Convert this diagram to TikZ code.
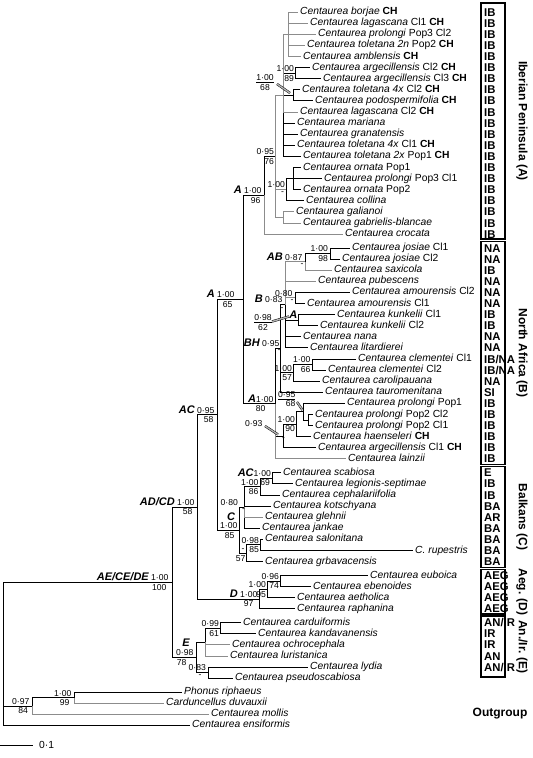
\documentclass[tikz,border=0pt]{standalone}
\usepackage{fontspec}
\setmainfont{Liberation Sans}
\newcommand\lfont{\fontsize{10.3}{11}\selectfont}
\newcommand\sfont{\fontsize{8.6}{9.4}\selectfont}
\newcommand\cfont{\fontsize{11}{12}\selectfont\bfseries\itshape}
\newcommand\kfont{\fontsize{11.3}{12}\selectfont\bfseries}
\newcommand\rfont{\fontsize{12}{13}\selectfont\bfseries}
\tikzset{
  lf/.style={anchor=west, inner xsep=2.5pt, inner ysep=0pt, text height=7.4pt, text depth=2.1pt, font=\lfont},
  br/.style={line width=0.75pt, black},
  gb/.style={line width=0.75pt, black!45},
  sp/.style={font=\sfont, inner sep=0.4pt},
  code/.style={anchor=west, inner sep=0pt, text height=8.2pt, text depth=0pt, font=\kfont},
  rbox/.style={draw, line width=1.1pt},
  reg/.style={font=\rfont, rotate=-90, inner sep=0pt},
  ptr/.style={draw=black, double=black!30, double distance=1.4pt, line width=0.45pt},
}
\begin{document}
\begin{tikzpicture}[x=1pt,y=-1pt]
\useasboundingbox (0,0) rectangle (533,758);
% leaves
\foreach \i/\x/\y/\t in {
1/297.5/12.0/{\textit{Centaurea borjae} \textbf{CH}},
2/307.5/23.1/{\textit{Centaurea lagascana} Cl1 \textbf{CH}},
3/315.5/34.2/{\textit{Centaurea prolongi} Pop3 Cl2},
4/304.5/45.3/{\textit{Centaurea toletana 2n} Pop2 \textbf{CH}},
5/300.5/56.4/{\textit{Centaurea amblensis} \textbf{CH}},
6/309.5/67.5/{\textit{Centaurea argecillensis} Cl2 \textbf{CH}},
7/320.5/78.6/{\textit{Centaurea argecillensis} Cl3 \textbf{CH}},
8/299.5/89.7/{\textit{Centaurea toletana 4x} Cl2 \textbf{CH}},
9/312.5/100.8/{\textit{Centaurea podospermifolia} \textbf{CH}},
10/297.5/111.9/{\textit{Centaurea lagascana} Cl2 \textbf{CH}},
11/294.5/123.0/{\textit{Centaurea mariana}},
12/297.5/134.1/{\textit{Centaurea granatensis}},
13/294.5/145.2/{\textit{Centaurea toletana 4x} Cl1 \textbf{CH}},
14/300.5/156.3/{\textit{Centaurea toletana 2x} Pop1 \textbf{CH}},
15/300.5/167.4/{\textit{Centaurea ornata} Pop1},
16/321.5/178.5/{\textit{Centaurea prolongi} Pop3 Cl1},
17/300.5/189.6/{\textit{Centaurea ornata} Pop2},
18/303.5/200.7/{\textit{Centaurea collina}},
19/293.5/211.8/{\textit{Centaurea galianoi}},
20/300.5/222.9/{\textit{Centaurea gabrielis-blancae}},
21/342.5/234.0/{\textit{Centaurea crocata}},
22/349.5/247.9/{\textit{Centaurea josiae} Cl1},
23/339.5/259.0/{\textit{Centaurea josiae} Cl2},
24/331.5/270.1/{\textit{Centaurea saxicola}},
25/315.5/281.2/{\textit{Centaurea pubescens}},
26/349.5/292.3/{\textit{Centaurea amourensis} Cl2},
27/304.5/303.4/{\textit{Centaurea amourensis} Cl1},
28/334.5/314.5/{\textit{Centaurea kunkelii} Cl1},
29/317.5/325.6/{\textit{Centaurea kunkelii} Cl2},
30/300.5/336.7/{\textit{Centaurea nana}},
31/307.5/347.8/{\textit{Centaurea litardierei}},
32/355.5/358.9/{\textit{Centaurea clementei} Cl1},
33/325.5/370.0/{\textit{Centaurea clementei} Cl2},
34/319.5/381.1/{\textit{Centaurea carolipauana}},
35/322.5/392.2/{\textit{Centaurea tauromenitana}},
36/344.5/403.3/{\textit{Centaurea prolongi} Pop1},
37/312.5/414.4/{\textit{Centaurea prolongi} Pop2 Cl2},
38/312.5/425.5/{\textit{Centaurea prolongi} Pop2 Cl1},
39/310.5/436.6/{\textit{Centaurea haenseleri} \textbf{CH}},
40/315.5/447.7/{\textit{Centaurea argecillensis} Cl1 \textbf{CH}},
41/345.5/458.8/{\textit{Centaurea lainzii}},
42/280.5/472.7/{\textit{Centaurea scabiosa}},
43/292.5/483.8/{\textit{Centaurea legionis-septimae}},
44/279.5/494.9/{\textit{Centaurea cephalariifolia}},
45/270.5/506.0/{\textit{Centaurea kotschyana}},
46/262.5/517.1/{\textit{Centaurea glehnii}},
47/259.5/528.2/{\textit{Centaurea jankae}},
48/262.5/539.3/{\textit{Centaurea salonitana}},
49/412.5/550.4/{\textit{C. rupestris}},
50/262.5/561.5/{\textit{Centaurea grbavacensis}},
51/367.5/575.4/{\textit{Centaurea euboica}},
52/310.5/586.5/{\textit{Centaurea ebenoides}},
53/294.5/597.6/{\textit{Centaurea aetholica}},
54/294.5/608.7/{\textit{Centaurea raphanina}},
55/240.5/622.6/{\textit{Centaurea carduiformis}},
56/255.5/633.7/{\textit{Centaurea kandavanensis}},
57/229.5/644.8/{\textit{Centaurea ochrocephala}},
58/227.5/655.9/{\textit{Centaurea luristanica}},
59/307.5/667.0/{\textit{Centaurea lydia}},
60/232.5/678.1/{\textit{Centaurea pseudoscabiosa}},
61/181.5/692.0/{\textit{Phonus riphaeus}},
62/163.5/703.1/{\textit{Carduncellus duvauxii}},
63/208.5/714.2/{\textit{Centaurea mollis}},
64/189.5/725.3/{\textit{Centaurea ensiformis}}}
  \node[lf] (l\i) at (\x,\y) {\t};
% internal nodes
\coordinate (R) at (3,653);
\coordinate (ING) at (172,582.1);
\coordinate (ADCD) at (197,506.9);
\coordinate (AC) at (217,414.85);
\coordinate (A65) at (243,299.4);
\coordinate (A96) at (264,195.15);
\coordinate (IB95) at (275,156.3);
\coordinate (POLY) at (283,95.25);
\coordinate (GRAY) at (288,34.2);
\coordinate (ARG) at (295,73.05);
\coordinate (TP) at (293,95.25);
\coordinate (ORN) at (286,189.6);
\coordinate (SUB) at (293,178.5);
\coordinate (GAL) at (283,217.35);
\coordinate (NA) at (275,403.65);
\coordinate (BH) at (280,348.5);
\coordinate (B) at (285,304.8);
\coordinate (AB) at (305,261.8);
\coordinate (J) at (330,253.45);
\coordinate (AM) at (295,297.85);
\coordinate (K) at (298,320.05);
\coordinate (CC) at (293,372.8);
\coordinate (CL) at (312,364.45);
\coordinate (W) at (283,435.9);
\coordinate (H) at (296,424.1);
\coordinate (PP) at (303,411.6);
\coordinate (P2) at (308,419.95);
\coordinate (C) at (239,530.3);
\coordinate (N3) at (244,507.4);
\coordinate (N2) at (260,486.6);
\coordinate (N1) at (272,478.25);
\coordinate (S) at (246,553.2);
\coordinate (S1) at (260,544.85);
\coordinate (D) at (259,599);
\coordinate (EEA) at (267,589.3);
\coordinate (EE) at (280,580.95);
\coordinate (E) at (196,657.3);
\coordinate (X) at (205,642.0);
\coordinate (CK) at (220,628.15);
\coordinate (LP) at (208,672.55);
\coordinate (OG) at (32,705.9);
\coordinate (PC) at (74,697.55);
% black branches
\foreach \p/\c in {R/ING,R/OG,R/l64.west,ING/ADCD,ING/E,ADCD/AC,ADCD/D,AC/A65,AC/C,A65/A96,A65/NA,
  A96/IB95,POLY/ARG,POLY/TP,POLY/l11.west,POLY/l12.west,POLY/l13.west,POLY/l14.west,
  ARG/l6.west,ARG/l7.west,TP/l8.west,TP/l9.west,ORN/SUB,ORN/l18.west,SUB/l15.west,SUB/l16.west,SUB/l17.west,
  NA/BH,NA/W,BH/B,BH/CC,BH/l35.west,B/K,B/l30.west,B/l31.west,AB/J,J/l22.west,J/l23.west,AM/l26.west,AM/l27.west,
  K/l28.west,K/l29.west,CC/CL,CC/l34.west,CL/l32.west,CL/l33.west,W/H,W/l40.west,H/PP,H/l39.west,PP/l36.west,PP/P2,
  P2/l37.west,P2/l38.west,C/N3,C/S,N3/N2,N3/l45.west,N3/l47.west,N2/N1,N2/l44.west,N1/l42.west,N1/l43.west,
  S/S1,S/l50.west,S1/l48.west,S1/l49.west,D/EEA,D/l54.west,EEA/EE,EEA/l53.west,EE/l51.west,EE/l52.west,
  E/X,E/LP,X/CK,CK/l55.west,CK/l56.west,LP/l59.west,LP/l60.west,OG/PC,PC/l61.west}
  \draw[br] (\p) |- (\c);
% grey branches
\foreach \p/\c in {A96/l21.west,IB95/POLY,IB95/ORN,IB95/GAL,POLY/GRAY,POLY/l10.west,
  GRAY/l1.west,GRAY/l2.west,GRAY/l3.west,GRAY/l4.west,GRAY/l5.west,GAL/l19.west,GAL/l20.west,
  B/AB,B/l25.west,B/AM,AB/l24.west,NA/l41.west,N3/l46.west,X/l57.west,X/l58.west,OG/l63.west,PC/l62.west}
  \draw[gb] (\p) |- (\c);
% support values
\node[sp,align=center] (sPOLY) at (265,82.5) {\underline{1·00}\\68};
\coordinate (pa1) at (277,84); \coordinate (pb1) at (290,93);
\draw[ptr] (pa1) -- (pb1);
\node[sp,anchor=south east] (sARGa) at (294.5,72) {1·00};
\node[sp,anchor=north east] (sARGb) at (294.5,74.5) {89};
\node[sp,anchor=south east] (sIBa) at (274.5,155.3) {0·95};
\node[sp,anchor=north east] (sIBb) at (274.5,157.5) {76};
\node[sp,anchor=south east] (sORNa) at (285.5,188.3) {1·00};
\node[sp,anchor=north east] (sORNb) at (284.5,191.5) {-};
\node[sp,anchor=south east] (sA96a) at (262,194.2) {{\cfont A} 1·00};
\node[sp,anchor=north east] (sA96b) at (261,196.4) {96};
\node[sp,anchor=south east] (sA65a) at (235,298.4) {{\cfont A} 1·00};
\node[sp,anchor=north east] (sA65b) at (233,300.6) {65};
\node[sp,anchor=south east] (sJa) at (328.5,252.5) {1·00};
\node[sp,anchor=north east] (sJb) at (328.5,254.7) {98};
\node[sp,anchor=south east] (sABa) at (303,260.8) {{\cfont AB} 0·87};
\node[sp,anchor=north east] (sABb) at (304,263) {-};
\node[sp,anchor=south east] (sAMa) at (293,296.9) {0·80};
\node[sp,anchor=north east] (sAMb) at (294,299) {-};
\node[sp,anchor=south east] (sBa) at (283,303.5) {{\cfont B} 0·83};
\node[sp,anchor=north east] (sBb) at (284,306.8) {-};
\node[sp,anchor=south east] (sKa) at (298,319) {\cfont A};
\node[sp,align=center] (sK) at (263,322.5) {\underline{0·98}\\62};
\coordinate (pa2) at (272,321.5); \coordinate (pb2) at (289,316.5);
\draw[ptr] (pa2) -- (pb2);
\node[sp,anchor=south east] (sBHa) at (280,347.5) {{\cfont BH} 0·95};
\node[sp,anchor=north east] (sBHb) at (281,349.7) {-};
\node[sp,anchor=south east] (sCLa) at (311,363.5) {1·00};
\node[sp,anchor=north east] (sCLb) at (311,365.6) {66};
\node[sp,anchor=south east] (sCCa) at (292.5,371.8) {1·00};
\node[sp,anchor=north east] (sCCb) at (292.5,374) {57};
\node[sp,anchor=south east] (sNAa) at (274,402.7) {{\cfont A}1·00};
\node[sp,anchor=north east] (sNAb) at (266,404.8) {80};
\node[sp,align=right,anchor=east] (sPP) at (296,399) {\underline{0·95}\\68};
\coordinate (pa3) at (297,402); \coordinate (pb3) at (302.5,410);
\draw[ptr] (pa3) -- (pb3);
\node[sp,anchor=south east] (sHa) at (295.5,423.1) {1·00};
\node[sp,anchor=north east] (sHb) at (295.5,425.3) {90};
\node[sp,anchor=east] (sWa) at (263,424) {0·93};
\coordinate (pa4) at (265,426); \coordinate (pb4) at (278,434.5);
\draw[ptr] (pa4) -- (pb4);
\node[sp,anchor=north east] (sWb) at (285.5,437) {-};
\node[sp,anchor=south east] (sN1a) at (271.5,477.3) {{\cfont AC}1·00};
\node[sp,anchor=north east] (sN1b) at (270.5,479.3) {69};
\node[sp,anchor=south east] (sN2a) at (259,485.7) {1·00};
\node[sp,anchor=north east] (sN2b) at (259,487.7) {86};
\node[sp,anchor=south east] (sN3a) at (238.5,506.6) {0·80};
\node[sp,anchor=north east] (sN3b) at (245.5,508.4) {-};
\node[sp,anchor=south east] (sCa) at (238,529.4) {1·00};
\node[sp,anchor=south] (sCc) at (231,521) {\cfont C};
\node[sp,anchor=north east] (sCb) at (235,531.6) {85};
\node[sp,anchor=south east] (sS1a) at (259.5,543.9) {0·98};
\node[sp,anchor=north east] (sS1b) at (259.5,546) {85};
\node[sp,anchor=south east] (sSa) at (245,552.3) {-};
\node[sp,anchor=north east] (sSb) at (246,554.5) {57};
\node[sp,anchor=south east] (sEEa) at (279.5,580) {0·96};
\node[sp,anchor=north east] (sEEb) at (279.5,582.2) {74};
\node[sp,anchor=south east] (sEEAa) at (266.5,588.4) {1·00};
\node[sp,anchor=north east] (sEEAb) at (266.5,590.5) {95};
\node[sp,anchor=south east] (sDa) at (258,598.1) {{\cfont D} 1·00};
\node[sp,anchor=north east] (sDb) at (254,600.3) {97};
\node[sp,anchor=south east] (sADa) at (195,506) {{\cfont AD/CD} 1·00};
\node[sp,anchor=north east] (sADb) at (193,508.2) {58};
\node[sp,anchor=south east] (sACa) at (215,414) {{\cfont AC} 0·95};
\node[sp,anchor=north east] (sACb) at (214,416.2) {58};
\node[sp,anchor=south east] (sINGa) at (169,581.2) {{\cfont AE/CE/DE} 1·00};
\node[sp,anchor=north east] (sINGb) at (167,583.4) {100};
\node[sp,anchor=south east] (sEa) at (194,656.4) {0·98};
\node[sp,anchor=south] (sEc) at (186,647) {\cfont E};
\node[sp,anchor=north east] (sEb) at (187,658.8) {78};
\node[sp,anchor=south east] (sCKa) at (219.5,627.2) {0·99};
\node[sp,anchor=north east] (sCKb) at (219.5,629.4) {61};
\node[sp,anchor=south east] (sLPa) at (206.5,671.6) {0·83};
\node[sp,anchor=north east] (sLPb) at (202,674.5) {-};
\node[sp,anchor=south east] (sPCa) at (72,696.7) {1·00};
\node[sp,anchor=north east] (sPCb) at (70,698.8) {99};
\node[sp,anchor=south east] (sOGa) at (30,705) {0·97};
\node[sp,anchor=north east] (sOGb) at (28.5,707.1) {84};
% area codes
\coordinate (cx) at (484,0);
\foreach \i/\c in {1/IB,2/IB,3/IB,4/IB,5/IB,6/IB,7/IB,8/IB,9/IB,10/IB,11/IB,12/IB,13/IB,14/IB,15/IB,16/IB,17/IB,18/IB,19/IB,20/IB,21/IB,
  22/NA,23/NA,24/IB,25/NA,26/NA,27/NA,28/IB,29/IB,30/NA,31/NA,32/{IB/NA},33/{IB/NA},34/NA,35/SI,36/IB,37/IB,38/IB,39/IB,40/IB,41/IB,
  42/E,43/IB,44/IB,45/BA,46/AR,47/BA,48/BA,49/BA,50/BA,51/AEG,52/AEG,53/AEG,54/AEG,
  55/{AN/IR},56/IR,57/IR,58/AN,59/{AN/IR}}
  \node[code] (c\i) at (l\i.west -| cx) {\c};
\draw[rbox] (481,3) rectangle (505,239);
\draw[rbox] (481,241.5) rectangle (505,464.5);
\draw[rbox] (481,466.5) rectangle (505,567.5);
\draw[rbox] (481,569.5) rectangle (505,614);
\draw[rbox] (481,616) rectangle (505,677);
\node[reg] (rA) at (522,121) {Iberian Peninsula (A)};
\node[reg] (rB) at (522,353) {North Africa (B)};
\node[reg] (rC) at (522,517) {Balkans (C)};
\node[reg] (rD) at (522,592) {Aeg. (D)};
\node[reg] (rE) at (522,647) {An./Ir. (E)};
\node[font=\rfont, inner sep=0pt] (rO) at (500,714) {Outgroup};
% scale bar
\coordinate (sb1) at (0,745); \coordinate (sb2) at (33,745);
\draw[br] (sb1) -- (sb2);
\node[anchor=west, font=\lfont, inner sep=0pt] (sbl) at (39,745) {0·1};
\end{tikzpicture}
\end{document}
